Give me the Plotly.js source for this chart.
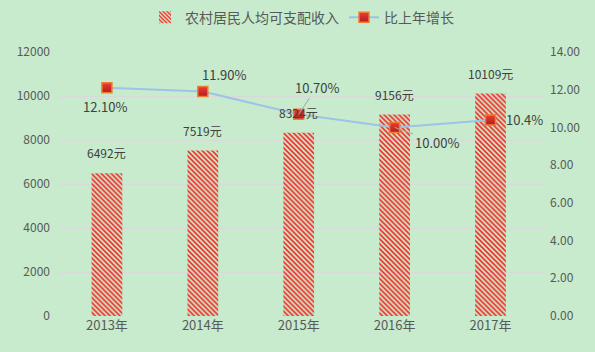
<!DOCTYPE html>
<html><head><meta charset="utf-8">
<script src="https://cdn.plot.ly/plotly-3.0.1.min.js"></script>
<style>html,body{margin:0;padding:0;background:#C7EBCC;}</style>
</head><body><div id="chart" style="width:595px;height:352px;"></div>
<script>
const years = ['2013年','2014年','2015年','2016年','2017年'];
const income = [6492, 7519, 8324, 9156, 10109];
const growth = [12.10, 11.90, 10.70, 10.00, 10.40];
const growthLabels = ['12.10%','11.90%','10.70%','10.00%','10.4%'];
const incomeName = '农村居民人均可支配收入';
const growthName = '比上年增长';

const font = "'Noto Sans CJK SC', 'Liberation Sans', sans-serif";
const txtColor = '#595959';

const bars = {
  type:'bar', x: years, y: income, name: incomeName,
  marker:{color:'rgba(0,0,0,0)', pattern:{shape:'\\', fgcolor:'#FF0000', bgcolor:'rgba(0,0,0,0)', size:3.5, solidity:0.4}, line:{width:0}},
  width:0.32, hoverinfo:'skip'
};
const line = {
  type:'scatter', mode:'lines+markers', x: years, y: growth, yaxis:'y2', name: growthName,
  line:{color:'#9DC3E6', width:2},
  marker:{symbol:'square', size:10, color:'#F03A33', gradient:{type:'vertical', color:'#B01E1E'}, line:{color:'#ED7D31', width:1.5}}
};

const annotations = [];
income.forEach((v,i)=>{
  annotations.push({x: years[i], y: v, xref:'x', yref:'y', text: v + '元', showarrow:false,
    yanchor:'bottom', yshift:10, font:{family:font, size:12, color:'#404040'}});
});
// label offsets relative to the point (pixels, +x right, +y down)
const lblCfg = [
  {dx:-2, dy:19, arrow:false},
  {dx:21, dy:-17, arrow:false},
  {dx:18, dy:-27, arrow:true},
  {dx:42, dy:15, arrow:true},
  {dx:34, dy:0, arrow:false}
];
growth.forEach((v,i)=>{
  const c = lblCfg[i];
  if (c.arrow) {
    annotations.push({x: years[i], y: v, xref:'x', yref:'y2', text: growthLabels[i], showarrow:true,
      arrowhead:0, arrowwidth:1, arrowcolor:'#A6A6A6', ax:c.dx, ay:c.dy, standoff:0,
      font:{family:font, size:13, color:'#404040'}});
  } else {
    annotations.push({x: years[i], y: v, xref:'x', yref:'y2', text: growthLabels[i], showarrow:false,
      xshift:c.dx, yshift:-c.dy, font:{family:font, size:13, color:'#404040'}});
  }
});

const layout = {
  width:595, height:352,
  paper_bgcolor:'#C7EBCC', plot_bgcolor:'#C7EBCC',
  margin:{l:59, r:50, t:52, b:36},
  font:{family:font, color:txtColor, size:12},
  showlegend:true,
  legend:{orientation:'h', x:0.5, xanchor:'center', y:0.995, yref:'container', yanchor:'top',
    font:{family:font, size:14, color:txtColor}, bgcolor:'rgba(0,0,0,0)'},
  xaxis:{type:'category', showgrid:false, zeroline:false, showline:false, ticks:'',
    tickfont:{family:font, size:13, color:txtColor}},
  yaxis:{range:[0,12000], dtick:2000, tickformat:'d', showgrid:true, gridcolor:'#D9D9D9', gridwidth:1, zeroline:false,
    showline:false, ticks:'', tickfont:{family:font, size:12, color:txtColor}, ticklabelstandoff:8},
  yaxis2:{range:[0,14], dtick:2, overlaying:'y', side:'right', showgrid:false, zeroline:false,
    tickformat:'.2f', showline:false, ticks:'', tickfont:{family:font, size:12, color:txtColor}, ticklabelstandoff:4},
  annotations: annotations
};

Plotly.newPlot('chart', [bars, line], layout, {displayModeBar:false, staticPlot:true});
</script></body></html>
